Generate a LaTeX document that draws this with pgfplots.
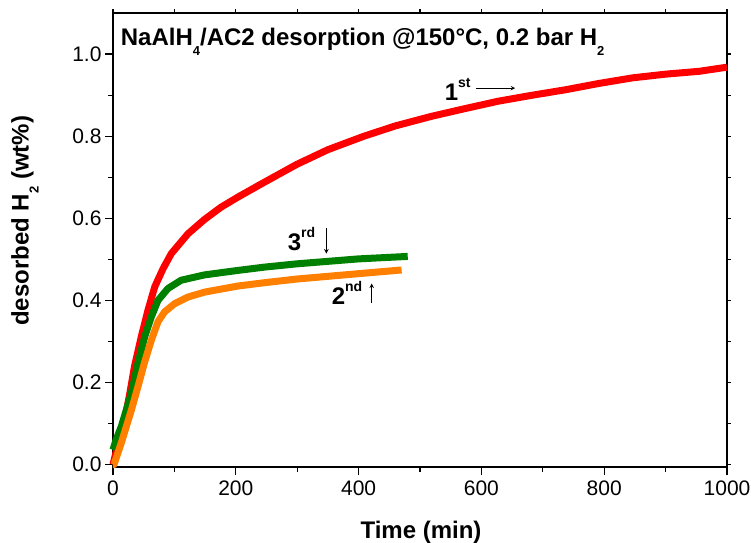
\documentclass[border=0pt]{standalone}
\usepackage{pgfplots}
\pgfplotsset{compat=1.18}
\usepackage{fontspec}
\setmainfont{Liberation Sans}
\definecolor{cRed}{RGB}{255,0,0}
\definecolor{cGreen}{RGB}{0,128,0}
\definecolor{cOrange}{RGB}{255,128,0}
\newcommand{\sub}[1]{\raisebox{-10bp}{\fontsize{13bp}{13bp}\selectfont\bfseries #1}}
\newcommand{\sups}[1]{\raisebox{13bp}{\fontsize{14bp}{14bp}\selectfont\bfseries #1}}
\begin{document}
\begin{tikzpicture}
\pgfplotsset{
  common/.style={
    width=614bp, height=454bp, scale only axis,
    xmin=0, xmax=1000, ymin=-0.006, ymax=1.1,
    axis line style={line width=1.3bp},
    tick style={line width=1.1bp, black},
    /pgf/number format/assume math mode=true,
  }
}
\begin{axis}[common,
  axis x line*=top, axis y line*=right,
  xtick={0,100,...,1000}, ytick={0,0.1,...,1.0},
  xticklabels={}, yticklabels={},
  tick align=outside, major tick length=3.5bp,
]
\end{axis}
\begin{axis}[common,
  axis x line*=bottom, axis y line*=left,
  xtick={0,200,...,1000}, minor xtick={100,300,...,900},
  ytick={0,0.2,...,1.0}, minor ytick={0.1,0.3,...,0.9},
  tick align=outside, major tick length=8bp, minor tick length=4.5bp,
  ticklabel style={font=\fontsize{21bp}{24bp}\selectfont},
  xticklabel style={/pgf/number format/1000 sep={}, yshift=-2bp},
  yticklabel style={/pgf/number format/fixed, /pgf/number format/fixed zerofill, /pgf/number format/precision=1},
  xlabel={Time (min)}, ylabel={desorbed H\sub{2} (wt\%)},
  label style={font=\fontsize{24bp}{28bp}\selectfont\bfseries},
  xlabel style={at={(axis description cs:0.5016,-0.143)}, anchor=center},
  ylabel style={at={(axis description cs:-0.1433,0.542)}, anchor=center},
  clip=false,
]
\addplot[cRed, line width=7bp, line join=round] coordinates {
(0,0.0) (2,0.012) (10,0.06) (19,0.109) (27,0.17) (35,0.239) (46,0.311) (57,0.376)
(68,0.433) (81.5,0.477) (95,0.514) (122,0.562) (149,0.597) (176,0.627) (204,0.652)
(242,0.684) (299,0.731) (350,0.767) (409,0.800) (460,0.825) (518,0.848) (570,0.866) (627,0.885)
(680,0.899) (737,0.913) (790,0.928) (846,0.942) (900,0.951) (955,0.958) (1000,0.968)
};
\addplot[cGreen, line width=7bp, line join=round] coordinates {
(0,0.036) (5,0.06) (13.6,0.093) (30,0.174) (40.7,0.247) (51.6,0.311) (62.5,0.36)
(73.3,0.40) (89.6,0.429) (111,0.449) (149,0.462) (204,0.473) (247,0.481) (300,0.489)
(400,0.501) (480,0.507)
};
\addplot[cOrange, line width=7bp, line join=round] coordinates {
(0,0.0) (1.6,0.0) (13.6,0.053) (30,0.133) (40.7,0.19) (51.6,0.25) (62.5,0.303)
(73.3,0.348) (84,0.372) (100.5,0.392) (122,0.408) (149,0.42) (204,0.435) (247,0.443)
(300,0.452) (400,0.465) (470,0.474)
};
\node[anchor=base west, font=\fontsize{24bp}{28bp}\selectfont\bfseries, inner sep=0pt]
  at (rel axis cs:0.0125,0.928) {NaAlH\sub{4}/AC2 desorption @150°C, 0.2 bar H\sub{2}};
\node[anchor=base west, font=\fontsize{24bp}{28bp}\selectfont\bfseries, inner sep=0pt]
  at (axis cs:540,0.887) {1\sups{st}};
\draw[-stealth, line width=1bp] (axis cs:592,0.917) -- (axis cs:655,0.917);
\node[anchor=base west, font=\fontsize{24bp}{28bp}\selectfont\bfseries, inner sep=0pt]
  at (axis cs:284.5,0.521) {3\sups{rd}};
\draw[-stealth, line width=1bp] (axis cs:347.5,0.576) -- (axis cs:347.5,0.514);
\node[anchor=base west, font=\fontsize{24bp}{28bp}\selectfont\bfseries, inner sep=0pt]
  at (axis cs:356,0.389) {2\sups{nd}};
\draw[-stealth, line width=1bp] (axis cs:421.3,0.393) -- (axis cs:421.3,0.441);
\end{axis}
\pgfresetboundingbox
\path (-113bp,-76bp) rectangle (638bp,467bp);
\end{tikzpicture}
\end{document}
